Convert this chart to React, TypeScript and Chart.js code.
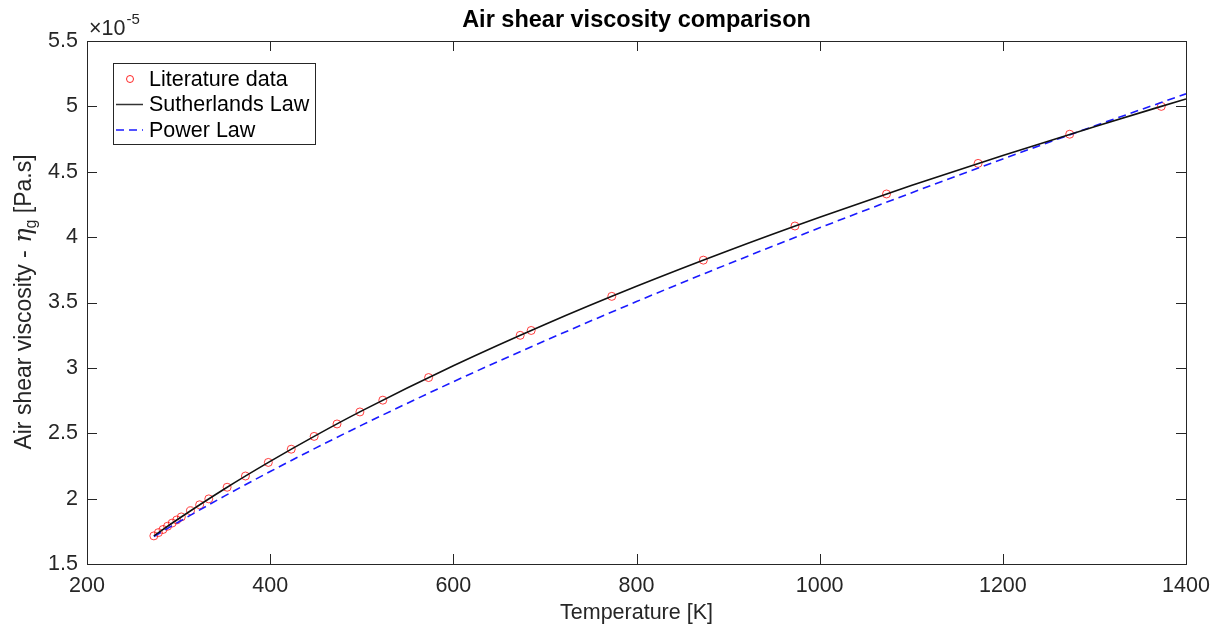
import React, { useEffect, useRef } from "react";
import { Chart, registerables } from "chart.js";

Chart.register(...registerables);

// Literature data: temperature [K] and viscosity [x1e-5 Pa.s]
const litTemps = [273, 278, 283, 288, 293, 298, 303, 313, 323, 333, 353, 373, 398, 423, 448, 473, 498, 523, 573, 673, 685, 773, 873, 973, 1073, 1173, 1273, 1373];
const litVisc = [1.715, 1.740, 1.764, 1.789, 1.813, 1.837, 1.860, 1.907, 1.953, 1.998, 2.087, 2.173, 2.277, 2.378, 2.476, 2.571, 2.663, 2.753, 2.926, 3.249, 3.286, 3.547, 3.824, 4.085, 4.330, 4.564, 4.787, 5.000];

// Model curves
const curveTemps = [273, 300, 350, 400, 450, 500, 600, 700, 800, 900, 1000, 1100, 1200, 1300, 1400];
const sutherlandVisc = [1.715, 1.846, 2.074, 2.285, 2.484, 2.671, 3.016, 3.332, 3.624, 3.896, 4.152, 4.395, 4.625, 4.845, 5.057];
const powerVisc = [1.710, 1.821, 2.019, 2.207, 2.388, 2.562, 2.894, 3.207, 3.507, 3.794, 4.071, 4.338, 4.598, 4.850, 5.096];

const xTicks = [200, 400, 600, 800, 1000, 1200, 1400];
const yTicks = [1.5, 2, 2.5, 3, 3.5, 4, 4.5, 5, 5.5];

const titleText = "Air shear viscosity comparison";
const xTitle = "Temperature [K]";
const legendLabels = ["Literature data", "Sutherlands Law", "Power Law"];

const FONT = "'Liberation Sans', Arial, Helvetica, sans-serif";
const AXC = "#262626";

const framePlugin = {
  id: "frame",
  afterDraw(chart: any) {
    const { ctx, chartArea, scales } = chart;
    const { left, right, top, bottom } = chartArea;
    const xs = scales.x;
    const ys = scales.y;
    ctx.save();
    ctx.strokeStyle = AXC;
    ctx.lineWidth = 1;
    ctx.setLineDash([]);
    // box
    ctx.strokeRect(Math.round(left) + 0.5, Math.round(top) + 0.5, Math.round(right - left), Math.round(bottom - top));
    // ticks inward on all four sides
    const TL = 10;
    ctx.beginPath();
    xTicks.forEach((v) => {
      const p = Math.round(xs.getPixelForValue(v)) + 0.5;
      ctx.moveTo(p, bottom);
      ctx.lineTo(p, bottom - TL);
      ctx.moveTo(p, top);
      ctx.lineTo(p, top + TL);
    });
    yTicks.forEach((v) => {
      const p = Math.round(ys.getPixelForValue(v)) + 0.5;
      ctx.moveTo(left, p);
      ctx.lineTo(left + TL, p);
      ctx.moveTo(right, p);
      ctx.lineTo(right - TL, p);
    });
    ctx.stroke();

    // exponent label
    ctx.fillStyle = AXC;
    ctx.textBaseline = "alphabetic";
    ctx.textAlign = "left";
    ctx.font = `21.5px ${FONT}`;
    ctx.fillText("\u00d710", left + 2, top - 6);
    const w10 = ctx.measureText("\u00d710").width;
    ctx.font = `15px ${FONT}`;
    ctx.fillText("-5", left + 2 + w10 + 1, top - 17);

    // title
    ctx.fillStyle = "#000";
    ctx.font = `bold 23.5px ${FONT}`;
    ctx.textAlign = "center";
    ctx.fillText(titleText, (left + right) / 2, 27);

    // x title
    ctx.fillStyle = AXC;
    ctx.font = `21.5px ${FONT}`;
    ctx.fillText(xTitle, (left + right) / 2, 619);

    // y title (rotated)
    ctx.save();
    ctx.translate(31, (top + bottom) / 2);
    ctx.rotate(-Math.PI / 2);
    ctx.textAlign = "left";
    const p1 = "Air shear viscosity - ";
    const p2 = "\u03b7";
    const p3 = "g";
    const p4 = " [Pa.s]";
    const f1 = `23px ${FONT}`;
    const f2 = `italic 24px 'DejaVu Serif', 'Liberation Serif', serif`;
    const f3 = `16px ${FONT}`;
    ctx.font = f1;
    const w1 = ctx.measureText(p1).width;
    const w4 = ctx.measureText(p4).width;
    ctx.font = f2;
    const w2 = ctx.measureText(p2).width;
    ctx.font = f3;
    const w3 = ctx.measureText(p3).width;
    let xPos = -(w1 + w2 + w3 + w4) / 2;
    ctx.font = f1;
    ctx.fillText(p1, xPos, 0);
    xPos += w1 + 1;
    ctx.font = f2;
    ctx.fillText(p2, xPos, 0);
    xPos += w2;
    ctx.font = f3;
    ctx.fillText(p3, xPos, 5);
    xPos += w3;
    ctx.font = f1;
    ctx.fillText(p4, xPos, 0);
    ctx.restore();

    // legend
    const lx = 113.5, ly = 63.5, lw = 202, lh = 81;
    ctx.fillStyle = "#fff";
    ctx.fillRect(lx, ly, lw, lh);
    ctx.strokeStyle = AXC;
    ctx.lineWidth = 1;
    ctx.strokeRect(lx, ly, lw, lh);
    const rows = [79, 104.5, 130];
    // marker
    ctx.strokeStyle = "rgba(255,0,0,0.85)";
    ctx.beginPath();
    ctx.arc(130, rows[0], 3.5, 0, Math.PI * 2);
    ctx.stroke();
    // sutherland
    ctx.strokeStyle = "#333";
    ctx.lineWidth = 1.5;
    ctx.beginPath();
    ctx.moveTo(116, rows[1]);
    ctx.lineTo(143, rows[1]);
    ctx.stroke();
    // power
    ctx.strokeStyle = "#1a1aff";
    ctx.setLineDash([8, 5]);
    ctx.beginPath();
    ctx.moveTo(116, rows[2]);
    ctx.lineTo(143, rows[2]);
    ctx.stroke();
    ctx.setLineDash([]);
    ctx.fillStyle = "#000";
    ctx.font = `21.5px ${FONT}`;
    ctx.textAlign = "left";
    ctx.textBaseline = "middle";
    legendLabels.forEach((t, i) => ctx.fillText(t, 149, rows[i] + 1));
    ctx.restore();
  },
};

export default function App() {
  const ref = useRef<HTMLCanvasElement | null>(null);
  useEffect(() => {
    if (!ref.current) return;
    const chart = new Chart(ref.current, {
      type: "scatter",
      data: {
        datasets: [
          {
            label: legendLabels[0],
            data: litTemps.map((t, i) => ({ x: t, y: litVisc[i] })),
            showLine: false,
            pointRadius: 4,
            pointBorderWidth: 1,
            pointBorderColor: "rgba(255,0,0,0.75)",
            pointBackgroundColor: "rgba(0,0,0,0)",
            order: 3,
          },
          {
            label: legendLabels[1],
            data: curveTemps.map((t, i) => ({ x: t, y: sutherlandVisc[i] })),
            showLine: true,
            pointRadius: 0,
            borderColor: "#111",
            borderWidth: 1.6,
            cubicInterpolationMode: "monotone",
            order: 1,
          },
          {
            label: legendLabels[2],
            data: curveTemps.map((t, i) => ({ x: t, y: powerVisc[i] })),
            showLine: true,
            pointRadius: 0,
            borderColor: "#1a1aff",
            borderWidth: 1.6,
            borderDash: [8, 5],
            cubicInterpolationMode: "monotone",
            order: 2,
          },
        ],
      },
      options: {
        animation: false,
        responsive: true,
        maintainAspectRatio: false,
        layout: { padding: { top: 41, right: 37, left: 0, bottom: 0 } },
        plugins: {
          legend: { display: false },
          title: { display: false },
          tooltip: { enabled: false },
        },
        scales: {
          x: {
            type: "linear",
            min: 200,
            max: 1400,
            afterFit: (s: any) => {
              s.height = 66;
            },
            afterBuildTicks: (s: any) => {
              s.ticks = xTicks.map((v) => ({ value: v }));
            },
            grid: { display: false, drawTicks: false },
            border: { display: false },
            ticks: {
              color: AXC,
              font: { family: FONT, size: 21.5 },
              padding: 9,
              maxRotation: 0,
              autoSkip: false,
              callback: (v: any) => String(v),
            },
          },
          y: {
            type: "linear",
            min: 1.5,
            max: 5.5,
            afterFit: (s: any) => {
              s.width = 87;
            },
            afterBuildTicks: (s: any) => {
              s.ticks = yTicks.map((v) => ({ value: v }));
            },
            grid: { display: false, drawTicks: false },
            border: { display: false },
            ticks: {
              color: AXC,
              font: { family: FONT, size: 21.5 },
              padding: 9,
              autoSkip: false,
              callback: (v: any) => String(v),
            },
          },
        },
      },
      plugins: [framePlugin],
    });
    return () => chart.destroy();
  }, []);
  return (
    <div style={{ position: "fixed", left: 0, top: 0, width: 1223, height: 630, background: "#fff" }}>
      <canvas ref={ref} />
    </div>
  );
}
